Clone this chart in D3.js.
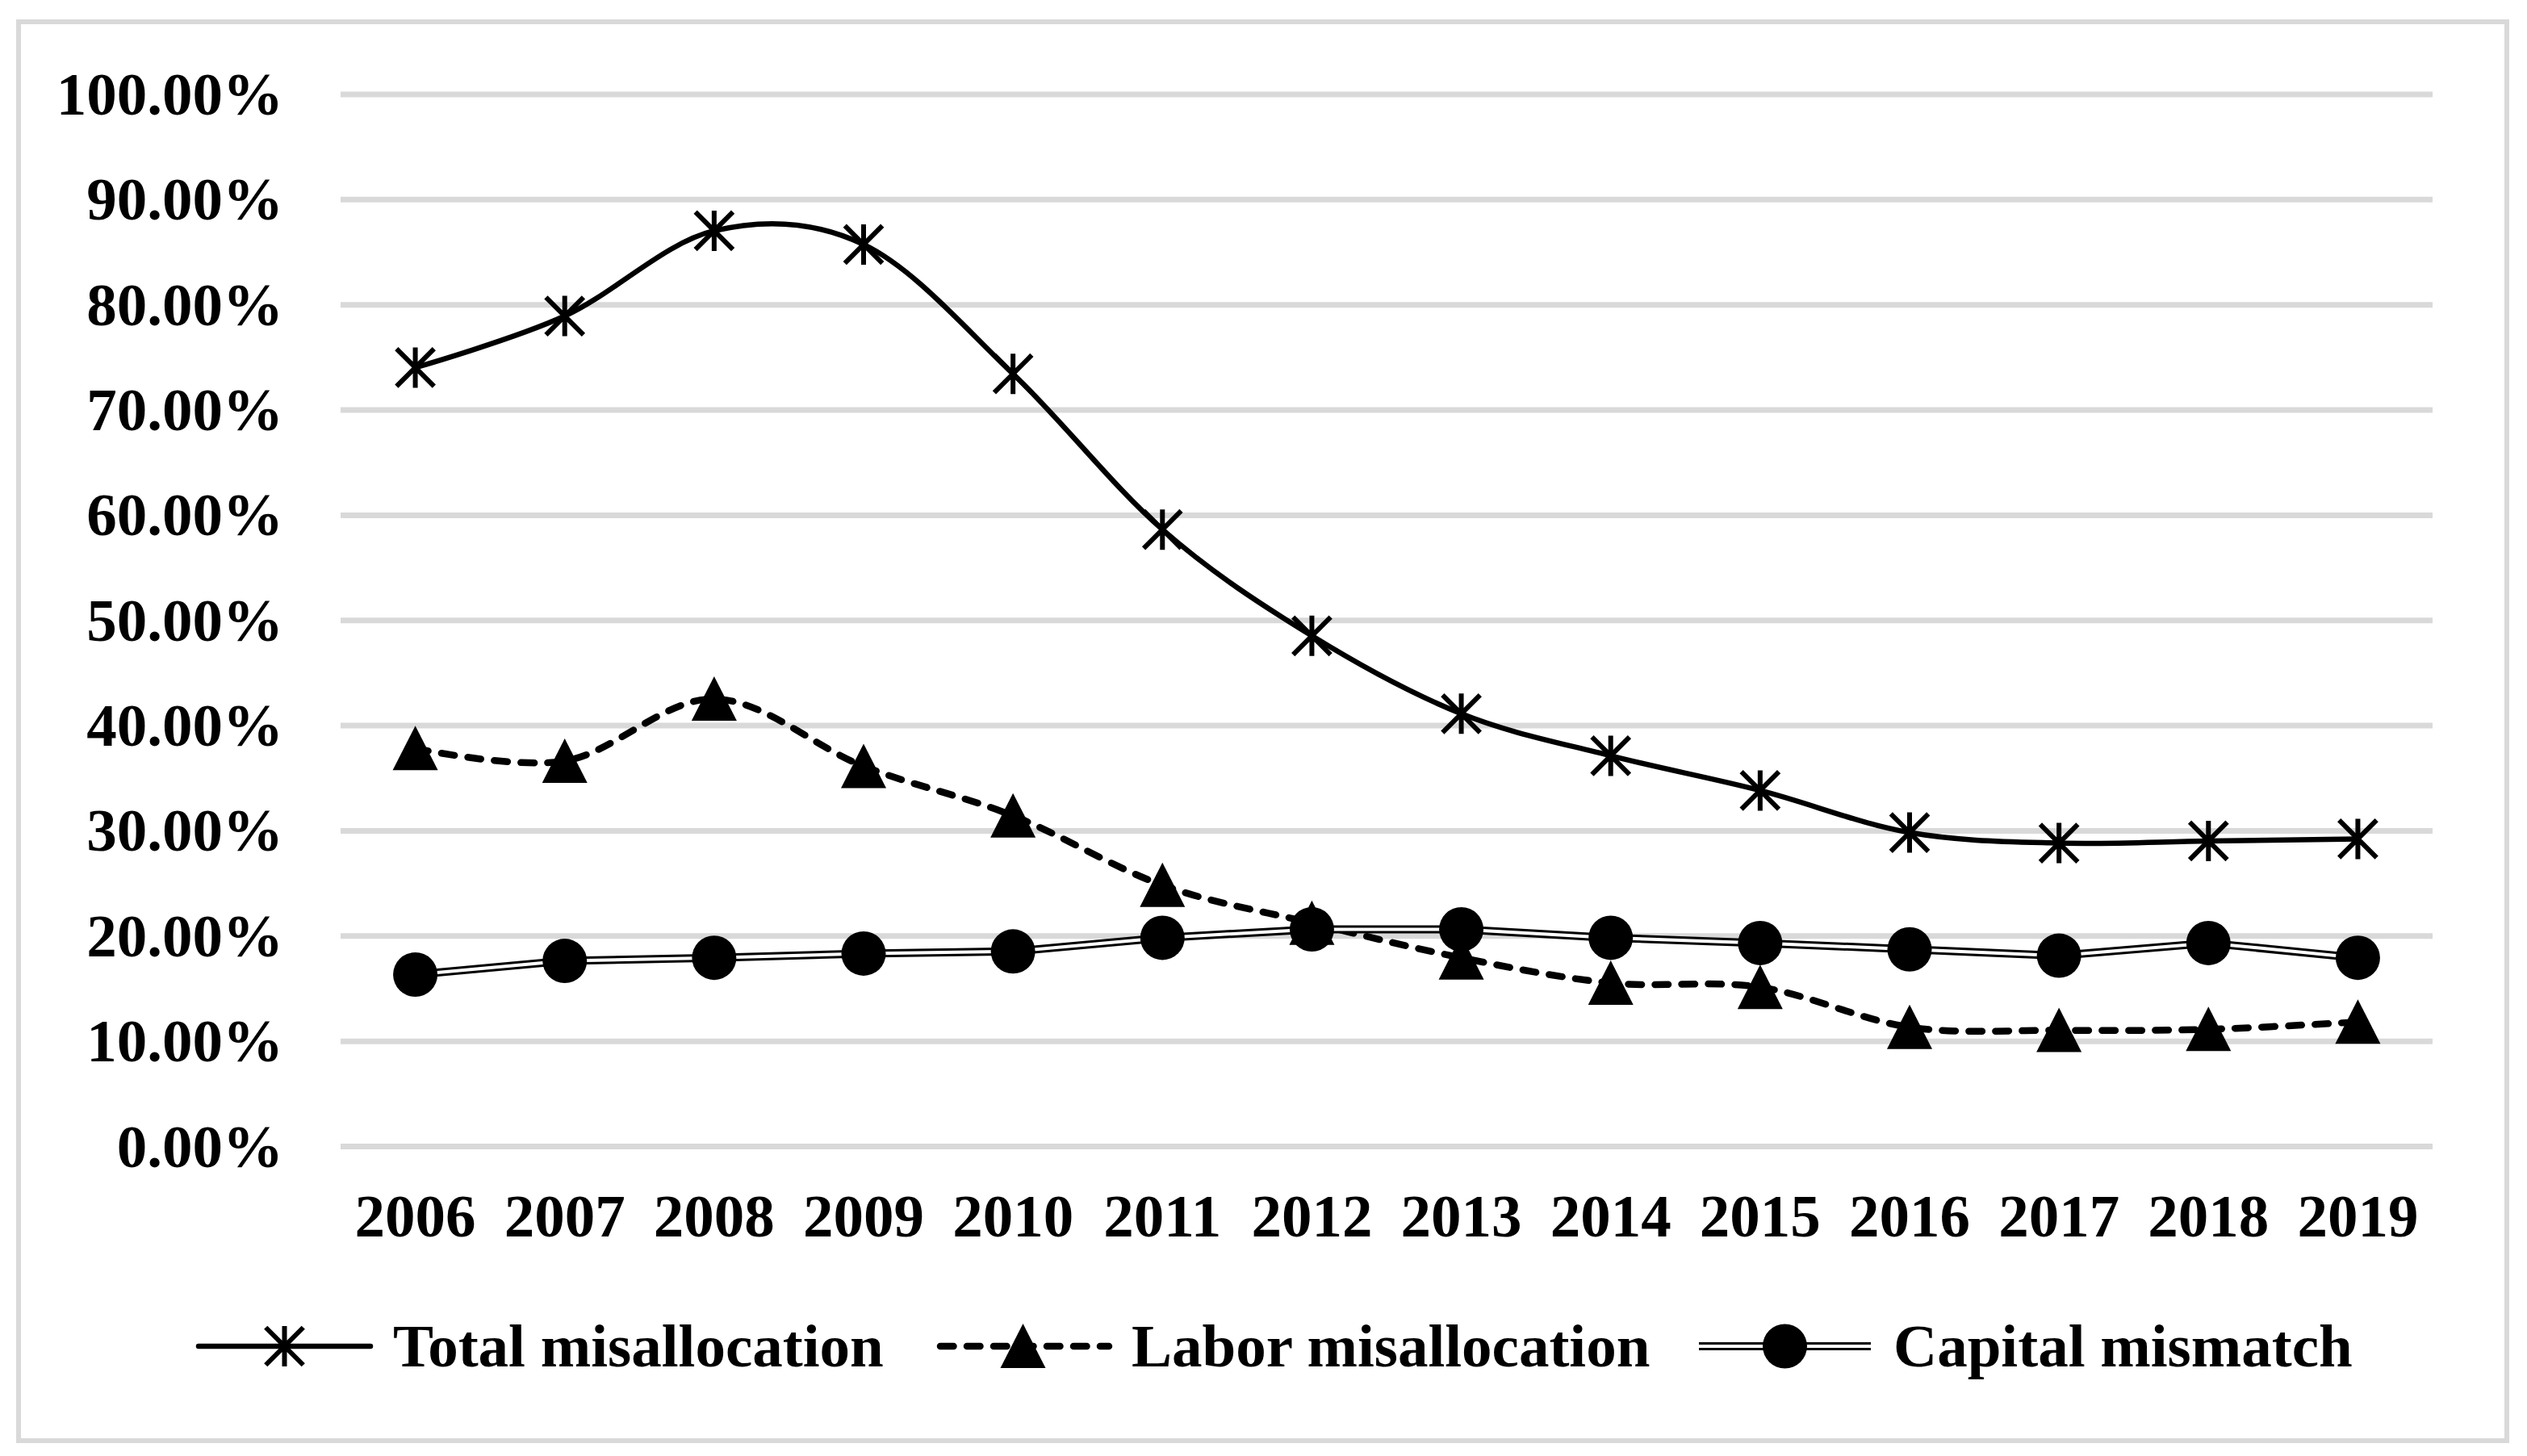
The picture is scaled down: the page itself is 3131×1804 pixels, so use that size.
<!DOCTYPE html>
<html>
<head>
<meta charset="utf-8">
<script src="https://cdn.jsdelivr.net/npm/d3@7"></script>
<style>
  body { margin: 0; background: #fff; }
  text { font-family: "Liberation Serif", "Times New Roman", serif; font-weight: bold; fill: #000; }
</style>
</head>
<body>
<div id="chart"></div>
<script>
const WIDTH = 3131;
const HEIGHT = 1804;
const MARGIN = { TOP: 116.5, RIGHT: 117, BOTTOM: 384, LEFT: 422 };
const FONT = 75;

// data
var years = ["2006", "2007", "2008", "2009", "2010", "2011", "2012", "2013", "2014", "2015", "2016", "2017", "2018", "2019"];
var totalMis = [74.0, 78.9, 87.0, 85.7, 73.4, 58.6, 48.5, 41.1, 37.1, 33.8, 29.8, 28.8, 29.0, 29.2];
var laborMis = [37.8, 36.6, 42.5, 36.1, 31.4, 24.8, 21.2, 17.9, 15.5, 15.1, 11.3, 11.0, 11.1, 11.8];
var capitalMis = [16.3, 17.6, 17.9, 18.3, 18.5, 19.8, 20.6, 20.6, 19.8, 19.3, 18.7, 18.1, 19.3, 17.9];
var yTicks = [0, 10, 20, 30, 40, 50, 60, 70, 80, 90, 100];
var seriesNames = ["Total misallocation", "Labor misallocation", "Capital mismatch"];

var svg = d3.select("div#chart").append("svg")
    .attr("width", WIDTH)
    .attr("height", HEIGHT);

svg.append("rect")
    .attr("width", WIDTH).attr("height", HEIGHT)
    .attr("fill", "#fff");

// outer frame
svg.append("rect")
    .attr("x", 23).attr("y", 27)
    .attr("width", 3083).attr("height", 1758)
    .attr("fill", "none")
    .attr("stroke", "#d9d9d9")
    .attr("stroke-width", 6);

var x = d3.scaleBand(years, [MARGIN.LEFT, WIDTH - MARGIN.RIGHT]);
var y = d3.scaleLinear([0, 100], [HEIGHT - MARGIN.BOTTOM, MARGIN.TOP]);
var cx = d => x(d) + x.bandwidth() / 2;

// gridlines + y labels
var yAxis = svg.append("g")
    .attr("transform", `translate(${MARGIN.LEFT},0)`)
    .call(d3.axisLeft(y)
        .tickValues(yTicks)
        .tickSize(-(WIDTH - MARGIN.LEFT - MARGIN.RIGHT))
        .tickPadding(71)
        .tickFormat(d => d.toFixed(2) + "%"));
yAxis.select(".domain").remove();
yAxis.selectAll("line").attr("stroke", "#d9d9d9").attr("stroke-width", 7);
yAxis.selectAll("text")
    .attr("font-size", FONT)
    .attr("dy", 25);

// x labels
var xAxis = svg.append("g")
    .attr("transform", `translate(0,${HEIGHT - MARGIN.BOTTOM})`)
    .call(d3.axisBottom(x).tickSize(0).tickPadding(0));
xAxis.select(".domain").remove();
xAxis.selectAll("text")
    .attr("font-size", FONT)
    .attr("y", 112)
    .attr("dy", 0);

// markers
function star(g, px, py) {
    var r = 25, k = r * 0.93;
    g.append("path")
        .attr("d", `M${px},${py - r}V${py + r}M${px - k},${py - k}L${px + k},${py + k}M${px + k},${py - k}L${px - k},${py + k}`)
        .attr("stroke", "#000").attr("stroke-width", 6).attr("fill", "none");
}
function tri(g, px, py) {
    g.append("path")
        .attr("d", `M${px},${py - 28}L${px + 28},${py + 27}L${px - 28},${py + 27}Z`)
        .attr("fill", "#000");
}
function dot(g, px, py) {
    g.append("circle").attr("cx", px).attr("cy", py).attr("r", 27.5).attr("fill", "#000");
}

const smooth = d3.line().x(d => cx(d[0])).y(d => y(d[1])).curve(d3.curveCardinal.tension(0));
const straight = d3.line().x(d => cx(d[0])).y(d => y(d[1]));

// Total misallocation
var gTotal = svg.append("g").attr("class", "total");
gTotal.append("path")
    .attr("d", smooth(years.map((d, i) => [d, totalMis[i]])))
    .attr("fill", "none").attr("stroke", "#000").attr("stroke-width", 6.5);
years.forEach((d, i) => star(gTotal, cx(d), y(totalMis[i])));

// Labor misallocation
var gLabor = svg.append("g").attr("class", "labor");
gLabor.append("path")
    .attr("d", smooth(years.map((d, i) => [d, laborMis[i]])))
    .attr("fill", "none").attr("stroke", "#000").attr("stroke-width", 8.5)
    .attr("stroke-dasharray", "16.5,16.5").attr("stroke-linecap", "round");
years.forEach((d, i) => tri(gLabor, cx(d), y(laborMis[i])));

// Capital mismatch (double line)
var gCap = svg.append("g").attr("class", "capital");
var capPts = years.map((d, i) => [d, capitalMis[i]]);
gCap.append("path").attr("d", straight(capPts))
    .attr("fill", "none").attr("stroke", "#000").attr("stroke-width", 10);
gCap.append("path").attr("d", straight(capPts))
    .attr("fill", "none").attr("stroke", "#fff").attr("stroke-width", 4);
years.forEach((d, i) => dot(gCap, cx(d), y(capitalMis[i])));

// legend
var legend = svg.append("g").attr("class", "legend");
var legendX = [246, 1161, 2105];
var legendY = 1668;
var lineLen = 213;
seriesNames.forEach((name, i) => {
    var g = legend.append("g");
    var x0 = legendX[i], x1 = x0 + lineLen, mx = (x0 + x1) / 2;
    if (i === 0) {
        g.append("line").attr("x1", x0).attr("x2", x1).attr("y1", legendY).attr("y2", legendY)
            .attr("stroke", "#000").attr("stroke-width", 6.5).attr("stroke-linecap", "round");
        star(g, mx, legendY);
    } else if (i === 1) {
        g.append("line").attr("x1", x0 + 4).attr("x2", x1).attr("y1", legendY).attr("y2", legendY)
            .attr("stroke", "#000").attr("stroke-width", 8.5)
            .attr("stroke-dasharray", "16.5,16.5").attr("stroke-linecap", "round");
        tri(g, mx, legendY);
    } else {
        g.append("line").attr("x1", x0).attr("x2", x1).attr("y1", legendY).attr("y2", legendY)
            .attr("stroke", "#000").attr("stroke-width", 10);
        g.append("line").attr("x1", x0).attr("x2", x1).attr("y1", legendY).attr("y2", legendY)
            .attr("stroke", "#fff").attr("stroke-width", 4);
        dot(g, mx, legendY);
    }
    g.append("text")
        .attr("x", x1 + 28).attr("y", legendY + 25)
        .attr("font-size", FONT)
        .text(name);
});
</script>
</body>
</html>
